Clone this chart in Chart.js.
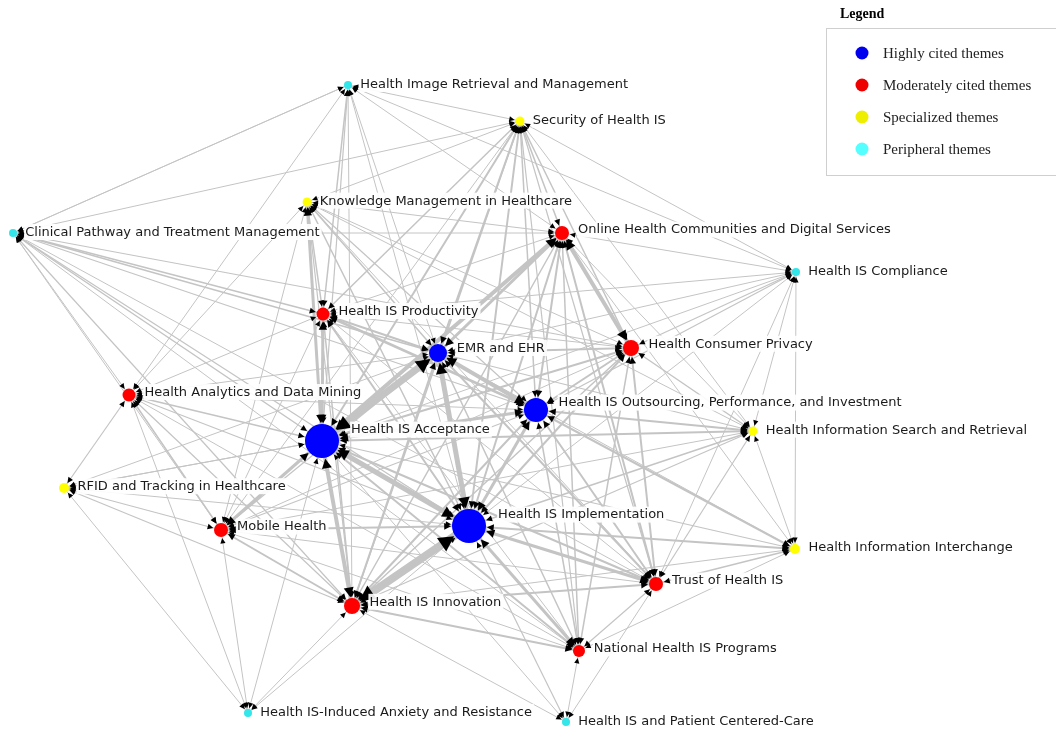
<!DOCTYPE html>
<html>
<head>
<meta charset="utf-8">
<script src="https://cdn.jsdelivr.net/npm/chart.js@4"></script>
<style>
  html, body { margin: 0; padding: 0; background: #fff; }
  #wrap { width: 1056px; height: 732px; position: relative; }
</style>
</head>
<body>
<div id="wrap"><canvas id="net"></canvas></div>
<script>
/* ---------- themes (nodes) ---------- */
const nodeNames = [
  "Health Image Retrieval and Management",
  "Security of Health IS",
  "Knowledge Management in Healthcare",
  "Clinical Pathway and Treatment Management",
  "Online Health Communities and Digital Services",
  "Health IS Compliance",
  "Health IS Productivity",
  "EMR and EHR",
  "Health Consumer Privacy",
  "Health Analytics and Data Mining",
  "Health IS Outsourcing, Performance, and Investment",
  "Health IS Acceptance",
  "Health Information Search and Retrieval",
  "RFID and Tracking in Healthcare",
  "Mobile Health",
  "Health IS Implementation",
  "Health Information Interchange",
  "Trust of Health IS",
  "Health IS Innovation",
  "National Health IS Programs",
  "Health IS-Induced Anxiety and Resistance",
  "Health IS and Patient Centered-Care"
];
// layout coordinates of each theme
const nodeX = [348, 520, 307, 13, 562, 796, 323, 438, 631, 129, 536, 322, 753, 64, 221, 469, 795, 656, 352, 579, 248, 566];
const nodeY = [85, 121, 202, 233, 233, 272, 314, 353, 348, 395, 410, 441, 431, 488, 530, 526, 549, 584, 606, 651, 713, 722];
// 0 highly cited, 1 moderately cited, 2 specialized, 3 peripheral
const nodeClass = [3, 2, 2, 3, 1, 3, 1, 0, 1, 1, 0, 0, 2, 2, 1, 0, 2, 1, 1, 1, 3, 3];
const nodeScore = [4, 6, 6, 4, 25, 4, 20, 49, 36, 20, 100, 225, 6, 9, 25, 225, 9, 25, 36, 16, 4, 4];

const classNames = ["Highly cited themes", "Moderately cited themes", "Specialized themes", "Peripheral themes"];

/* ---------- links between themes ---------- */
const edgeFrom = [
  0,0,0,0,0,0,0,0,0,0,
  1,1,1,1,1,1,1,1,1,1,1,1,1,1,1,
  2,2,2,2,2,2,2,2,2,2,2,2,
  3,3,3,3,3,3,3,3,3,3,3,3,3,
  4,4,4,4,4,4,4,4,4,4,4,4,4,
  5,5,5,5,5,5,5,5,5,
  6,6,6,6,6,6,6,6,6,6,
  7,7,7,7,7,7,7,7,7,7,7,
  8,8,8,8,8,8,8,8,
  9,9,9,9,9,9,9,9,
  10,10,10,10,10,10,10,10,
  11,11,11,11,11,11,11,11,11,11,
  12,12,12,12,12,
  13,13,13,13,13,13,
  14,14,14,14,14,
  15,15,15,15,15,15,
  16,16,16,
  17,17,17,
  18,18,18,
  19
];
const edgeTo = [
  1,3,6,11,7,4,9,5,15,18,
  5,2,3,4,8,7,10,11,15,6,18,17,19,12,14,
  4,11,6,7,10,15,8,18,14,9,17,12,
  6,7,11,10,15,8,9,14,18,17,4,0,19,
  8,11,7,15,10,17,19,18,5,12,6,14,16,
  8,10,7,11,6,12,16,15,17,
  11,7,10,15,18,14,9,8,17,19,
  11,15,10,8,18,17,19,12,14,9,16,
  10,11,15,17,19,12,18,14,
  11,15,14,13,18,10,19,20,
  11,15,12,17,16,18,19,14,
  15,18,14,17,19,12,13,16,20,21,
  15,17,16,18,14,
  14,18,15,11,20,7,
  15,18,20,19,17,
  18,17,19,16,21,20,
  17,18,19,
  18,19,21,
  19,20,21,
  21
];
const edgeWeight = [
  1,1,1.5,1.2,1,1,1,1,1,1,
  1,1,1,1.5,1.5,2,1.5,2,2,1.5,1.5,1.2,1.2,1,1,
  1.2,3,1.5,1.5,1.2,1.5,1,1.2,1,1,1,1,
  1.5,1.5,1.5,1.2,1.2,1.2,1,1,1.2,1,1,1,1,
  4,4,3,2,2,2,1.5,1.5,1,1,1,1,1,
  1.2,1.2,1,1,1,1,1,1,1,
  3,2,2.5,2,1.5,1,1,1,1,1,
  7,5,4,2,2,2,1.5,1.2,1.2,1,1,
  2,2,2,2,1.5,1.5,1.5,1,
  1.5,1.2,1.5,1.2,1.2,1,1,1,
  3,3,2,2,2,2,1.5,1.2,
  5,4,3,2,2,2,1.2,1.2,1,1,
  1.5,1.2,1,1.2,1,
  1.2,1.2,1,1,1,1,
  2,2,1,1,1,
  8,3,3,2,1.2,1,
  1.5,1.2,1,
  2,1.2,1,
  2,1,1,
  1
];

/* ---------- helpers ---------- */
const nodeFill = ["#0000ff", "#ff0000", "#ffff00", "#33e6ea"];
const legendFill = ["#0000ee", "#ee0000", "#eeee00", "#55ffff"];
const radiusOf = (s) => 2 + Math.sqrt(s);

const classData = classNames.map((_, c) =>
  nodeNames
    .map((n, i) => ({ x: nodeX[i], y: nodeY[i], s: nodeScore[i], name: n, c: nodeClass[i] }))
    .filter((p) => p.c === c)
);

const netPlugin = {
  id: "net",
  beforeDatasetsDraw(chart) {
    const { ctx, scales } = chart;
    const px = (i) => [scales.x.getPixelForValue(nodeX[i]), scales.y.getPixelForValue(nodeY[i])];
    ctx.save();
    ctx.strokeStyle = "#c4c4c4";
    ctx.lineCap = "butt";
    edgeFrom.forEach((a, k) => {
      const b = edgeTo[k];
      const [x1, y1] = px(a), [x2, y2] = px(b);
      ctx.lineWidth = edgeWeight[k];
      ctx.beginPath();
      ctx.moveTo(x1, y1);
      ctx.lineTo(x2, y2);
      ctx.stroke();
    });
    // arrow heads at both ends
    ctx.fillStyle = "#000";
    edgeFrom.forEach((a, k) => {
      const b = edgeTo[k];
      const w = edgeWeight[k];
      [[a, b], [b, a]].forEach(([src, dst]) => {
        const [xs, ys] = px(src), [xd, yd] = px(dst);
        const dx = xs - xd, dy = ys - yd;
        const d = Math.hypot(dx, dy) || 1;
        const ux = dx / d, uy = dy / d;
        const r = radiusOf(nodeScore[dst]) + 1;
        const len = 4 + w * 1.4, hw = 1.8 + w * 0.8;
        const tx = xd + ux * r, ty = yd + uy * r;
        const bx = tx + ux * len, by = ty + uy * len;
        ctx.beginPath();
        ctx.moveTo(tx, ty);
        ctx.lineTo(bx - uy * hw, by + ux * hw);
        ctx.lineTo(bx + uy * hw, by - ux * hw);
        ctx.closePath();
        ctx.fill();
      });
    });
    ctx.restore();
  },
  afterDatasetsDraw(chart) {
    const { ctx, scales } = chart;
    ctx.save();
    ctx.font = "13px 'DejaVu Sans'";
    ctx.textBaseline = "middle";
    nodeNames.forEach((name, i) => {
      const r = radiusOf(nodeScore[i]);
      const x = scales.x.getPixelForValue(nodeX[i]) + r * 1.3 + 7;
      const y = scales.y.getPixelForValue(nodeY[i]) - (r - 4) * 0.8 - 1;
      const w = ctx.measureText(name).width;
      ctx.fillStyle = "rgba(255,255,255,0.92)";
      ctx.fillRect(x - 1, y - 8, w + 3, 16);
      ctx.fillStyle = "#1a1a1a";
      ctx.fillText(name, x, y + 0.5);
    });
    ctx.restore();
  },
  afterDraw(chart) {
    const { ctx } = chart;
    ctx.save();
    ctx.font = "bold 14px 'Liberation Serif'";
    ctx.fillStyle = "#000";
    ctx.textBaseline = "middle";
    ctx.fillText("Legend", 840, 14);
    ctx.strokeStyle = "#cfcfcf";
    ctx.lineWidth = 1;
    ctx.strokeRect(826.5, 28.5, 240, 147);
    ctx.font = "15px 'Liberation Serif'";
    classNames.forEach((label, c) => {
      const y = 53 + c * 32;
      ctx.beginPath();
      ctx.arc(862, y, 6.5, 0, Math.PI * 2);
      ctx.fillStyle = legendFill[c];
      ctx.fill();
      ctx.fillStyle = "#222";
      ctx.fillText(label, 883, y + 1);
    });
    ctx.restore();
  }
};

new Chart(document.getElementById("net"), {
  type: "scatter",
  data: {
    datasets: classData.map((pts, c) => ({
      label: classNames[c],
      data: pts,
      backgroundColor: nodeFill[c],
      borderWidth: 0,
      pointRadius: (ctx) => radiusOf(ctx.raw.s),
      pointHoverRadius: (ctx) => radiusOf(ctx.raw.s),
      clip: false
    }))
  },
  options: {
    responsive: true,
    maintainAspectRatio: false,
    animation: false,
    layout: { padding: 0, autoPadding: false },
    plugins: { legend: { display: false }, tooltip: { enabled: false } },
    scales: {
      x: { type: "linear", min: 0, max: 1056, display: false },
      y: { type: "linear", min: 0, max: 732, reverse: true, display: false }
    }
  },
  plugins: [netPlugin]
});
</script>
</body>
</html>
